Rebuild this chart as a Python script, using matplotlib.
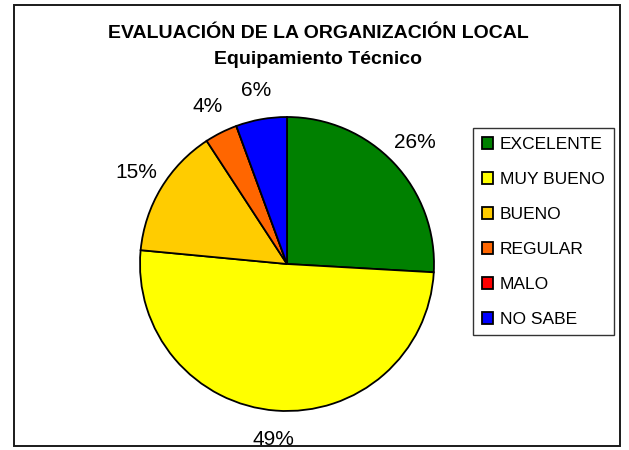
import matplotlib
matplotlib.use("Agg")
import matplotlib.pyplot as plt
from matplotlib.patches import Rectangle

plt.rcParams['font.family'] = ['Liberation Sans', 'DejaVu Sans']

categories = ["EXCELENTE", "MUY BUENO", "BUENO", "REGULAR", "MALO", "NO SABE"]
# slice shares as drawn in the picture (percent of the circle)
values = [25.9, 50.6, 14.3, 3.6, 0.0, 5.6]
# percentage labels as printed on the chart
pct_labels = ["26%", "49%", "15%", "4%", "", "6%"]
colors = ["#008000", "#FFFF00", "#FFCC00", "#FF6600", "#FF0000", "#0000FF"]
title_line1 = "EVALUACIÓN DE LA ORGANIZACIÓN LOCAL"
title_line2 = "Equipamiento Técnico"

W, H = 629, 450
fig = plt.figure(figsize=(W / 100, H / 100), dpi=100)

# outer frame
fig.patches.append(Rectangle((14 / W, 1 - 446 / H), (620 - 14) / W, (446 - 5) / H,
                             transform=fig.transFigure, fill=False,
                             edgecolor="#1a1a1a", linewidth=1.4, zorder=0))

cx, cy, r = 287, 264, 147
ax = fig.add_axes([(cx - r) / W, (H - cy - r) / H, 2 * r / W, 2 * r / H])
ax.set_aspect('equal')

wedges, texts = ax.pie(
    values, labels=pct_labels, colors=colors, startangle=90, counterclock=False,
    labeldistance=1.2, radius=1,
    wedgeprops=dict(edgecolor="black", linewidth=1.3),
    textprops=dict(fontsize=15, color="#000000"))
for t in texts:
    t.set_ha('center')
    t.set_va('center')
    t.set_clip_on(False)
ax.set_xlim(-1, 1)
ax.set_ylim(-1, 1)

fig.text(318 / W, 1 - 33 / H, title_line1, ha='center', va='center',
         fontsize=14, fontweight='bold')
fig.text(318 / W, 1 - 60 / H, title_line2, ha='center', va='center',
         fontsize=14, fontweight='bold')

leg = fig.legend(wedges, categories, loc='upper left',
                 bbox_to_anchor=(473 / W, 1 - 128 / H),
                 frameon=True, fancybox=False, fontsize=12.5,
                 handlelength=0.68, handleheight=0.68, handletextpad=0.38,
                 labelspacing=1.15, borderpad=0.5, borderaxespad=0)
leg.get_frame().set_edgecolor("black")
leg.get_frame().set_linewidth(1.0)

fig.savefig("out.png", dpi=100)
